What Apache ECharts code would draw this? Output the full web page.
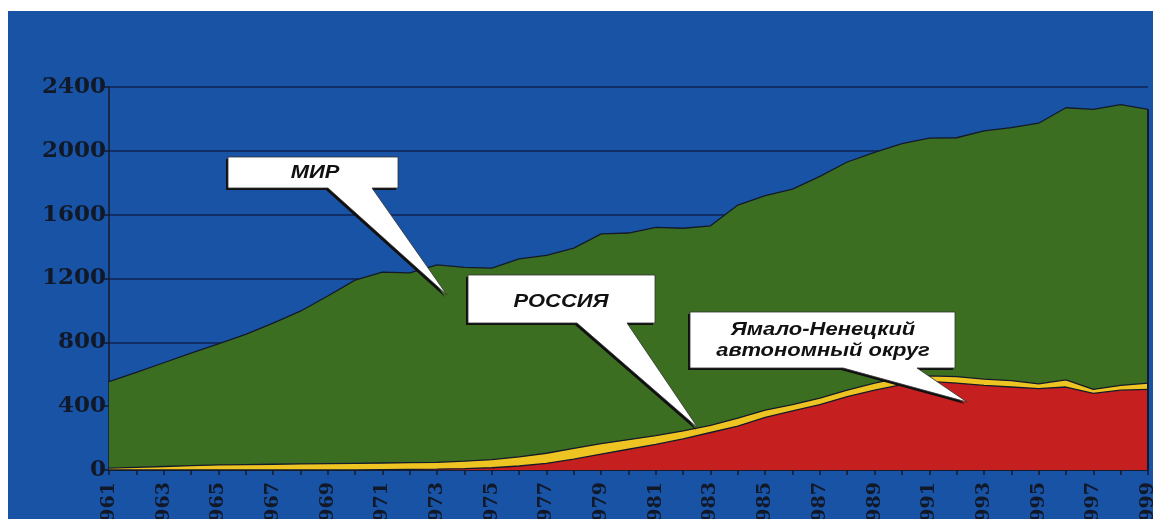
<!DOCTYPE html>
<html>
<head>
<meta charset="utf-8">
<script src="https://cdn.jsdelivr.net/npm/echarts@6/dist/echarts.min.js"></script>
<style>
  html, body { margin: 0; padding: 0; background: #ffffff; width: 1153px; height: 519px; overflow: hidden; }
  #chart { position: absolute; left: 8px; top: 11px; width: 1145px; height: 508px; background: #1953a6; }
</style>
</head>
<body>
<div id="chart"></div>
<script>
const years = [];
for (let y = 1961; y <= 1999; y++) years.push(String(y));

const world = [554, 612, 672, 732, 790, 850, 920, 995, 1090, 1190,
  1240, 1235, 1285, 1270, 1265, 1323, 1345, 1390, 1480, 1485,
  1520, 1515, 1530, 1660, 1720, 1760, 1840, 1930, 1990, 2045,
  2080, 2082, 2125, 2145, 2173, 2270, 2260, 2290, 2260];

const russia = [12, 17, 22, 27, 32, 34, 36, 38, 40, 42,
  44, 46, 48, 55, 65, 82, 105, 135, 165, 190,
  215, 245, 280, 325, 375, 410, 450, 500, 545, 580,
  590, 585, 570, 560, 540, 565, 505, 530, 545];

const yamal = [0, 0, 0, 0, 0, 0, 0, 0, 0, 0,
  2, 4, 6, 9, 14, 25, 42, 68, 100, 130,
  160, 195, 235, 275, 330, 370, 410, 460, 500, 535,
  555, 545, 530, 520, 510, 520, 480, 500, 505];

const yTicks = [0, 400, 800, 1200, 1600, 2000, 2400];

const labelWorld = 'МИР';
const labelRussia = 'РОССИЯ';
const labelYamal = ['Ямало-Ненецкий', 'автономный округ'];

const chart = echarts.init(document.getElementById('chart'), null, { renderer: 'canvas' });

const outline = '#141a2a';

function areaSeries(name, data, color, z) {
  return {
    name: name, type: 'line', data: data, symbol: 'none', z: z,
    lineStyle: { color: outline, width: 1.3 },
    areaStyle: { color: color, opacity: 1 },
    silent: true
  };
}

const option = {
  animation: false,
  backgroundColor: '#1953a6',
  grid: { left: 101, right: 5, top: 76, bottom: 49, containLabel: false, outerBoundsMode: 'none' },
  xAxis: {
    type: 'category', data: years, boundaryGap: false,
    axisLine: { lineStyle: { color: outline, width: 1.5 } },
    axisTick: { show: true, interval: 0, length: 5, lineStyle: { color: outline, width: 1.5 } },
    axisLabel: {
      interval: 1, rotate: 90, margin: 12, hideOverlap: false,
      fontFamily: '"DejaVu Serif"', fontWeight: 'bold', fontSize: 19, color: '#111827'
    },
    splitLine: { show: false }
  },
  yAxis: {
    type: 'value', min: 0, max: 2400, interval: 400,
    axisLine: { show: true, lineStyle: { color: outline, width: 1.5 } },
    axisTick: { show: true, length: 6, lineStyle: { color: outline, width: 1.5 } },
    axisLabel: {
      margin: 3,
      fontFamily: '"DejaVu Serif"', fontWeight: 'bold', fontSize: 23, color: '#111827',
      formatter: function (v) { return yTicks.indexOf(v) >= 0 ? String(v) : ''; }
    },
    splitLine: { show: true, lineStyle: { color: '#0f2350', width: 1.5 } }
  },
  series: [
    Object.assign(areaSeries('Мир', world, '#3c6e22', 2), {
      markLine: {
        silent: true, symbol: 'none', label: { show: false },
        lineStyle: { color: outline, width: 2, type: 'solid' },
        data: [[{ coord: [years[years.length - 1], 0] }, { coord: [years[years.length - 1], world[world.length - 1]] }]]
      }
    }),
    areaSeries('Россия', russia, '#eec422', 3),
    areaSeries('ЯНАО', yamal, '#c61f1f', 4)
  ]
};
chart.setOption(option);

// Callout annotations (speech-bubble boxes)
function bubble(L, T, R, B, b1, b2, tip) {
  return [[L, T], [R, T], [R, B], [b2, B], tip, [b1, B], [L, B]];
}
function shifted(pts, dx, dy) { return pts.map(p => [p[0] + dx, p[1] + dy]); }

const bubbles = [
  bubble(220, 146, 390, 177, 320, 364, [439, 284]),
  bubble(460, 264, 647, 312, 569, 619, [690, 417]),
  bubble(682, 301, 947, 357, 835, 909, [959, 391])
];

const graphics = [];
bubbles.forEach(function (pts) {
  graphics.push({ type: 'polygon', z: 100, shape: { points: shifted(pts, -2, 2) }, style: { fill: '#101010' } });
  graphics.push({ type: 'polygon', z: 101, shape: { points: pts }, style: { fill: '#ffffff', stroke: '#303030', lineWidth: 0.8 } });
});
const tfont = 'italic bold 18px "Liberation Sans", Arial, sans-serif';
function label(text, x, y) {
  return { type: 'text', z: 102, x: x, y: y, scaleX: 1.22, scaleY: 1,
    style: { text: text, x: 0, y: 0, font: tfont, fill: '#111111', align: 'center', verticalAlign: 'middle' } };
}
graphics.push(label(labelWorld, 307, 162));
graphics.push(label(labelRussia, 553, 291));
graphics.push(label(labelYamal[0], 815, 319));
graphics.push(label(labelYamal[1], 815, 340));

chart.setOption({ graphic: graphics });
</script>
</body>
</html>
